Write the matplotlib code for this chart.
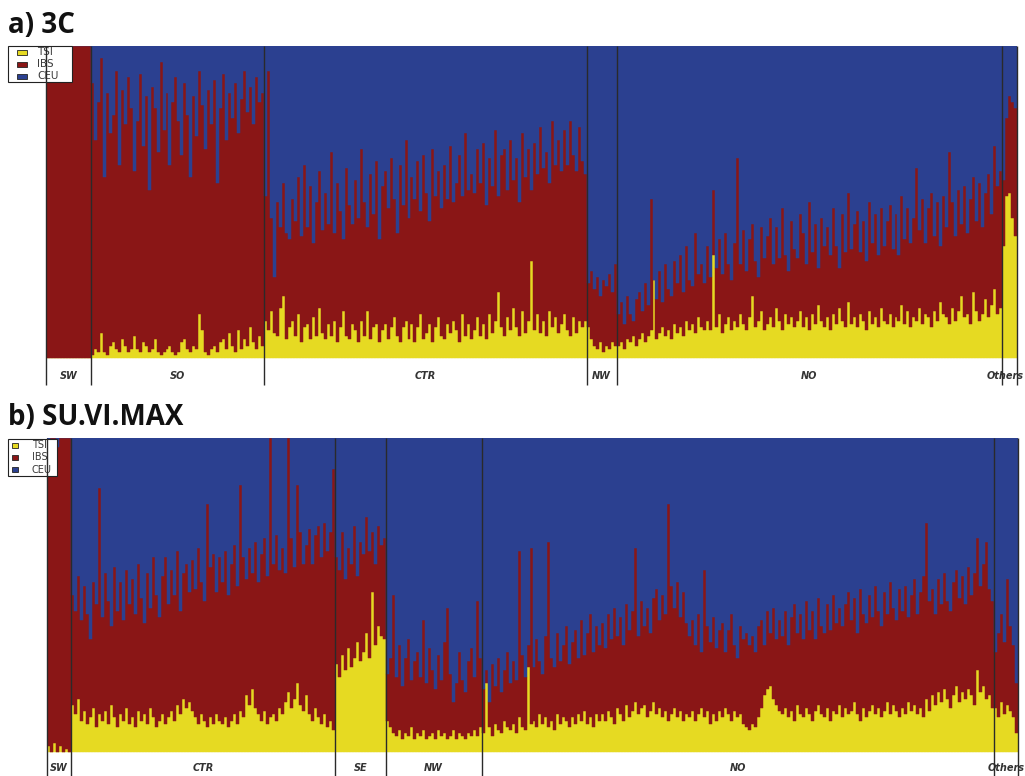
import numpy as np
import matplotlib
matplotlib.use("Agg")
import matplotlib.pyplot as plt
from matplotlib.patches import Rectangle

# ---------------- data (percent ancestry per individual) ----------------
components = ["TSI", "IBS", "CEU"]
colors = {"TSI": "#E6DA22", "IBS": "#8A1616", "CEU": "#2B4090"}

# ---- panel a) 3C ----
a_groups = ["SW", "SO", "CTR", "NW", "NO", "Others"]
a_sw_tsi = [0, 0, 0, 0, 0, 0, 0, 0, 0, 0, 0, 0, 0, 0, 0]
a_sw_ceu = [0, 0, 0, 0, 0, 0, 0, 0, 0, 0, 0, 0, 0, 0, 0]
a_so_tsi = [1, 3, 2, 8, 2, 1, 4, 5, 3, 2, 6, 4, 2, 3, 7, 3, 2, 5, 4, 2,
            3, 6, 2, 1, 2, 3, 4, 2, 1, 2, 5, 6, 3, 2, 4, 3, 14, 9, 2, 1,
            3, 4, 2, 5, 6, 3, 8, 4, 2, 9, 3, 6, 4, 10, 5, 3, 7, 4]
a_so_ceu = [12, 30, 18, 4, 42, 15, 28, 22, 8, 38, 14, 25, 10, 20, 40, 24, 9, 32, 16, 46,
            13, 20, 34, 5, 27, 15, 38, 18, 10, 24, 35, 12, 22, 42, 16, 29, 8, 19, 33, 14,
            25, 11, 44, 20, 9, 30, 15, 23, 12, 28, 17, 8, 21, 13, 25, 10, 18, 15]
a_ctr_tsi = [12, 9, 15, 8, 7, 16, 20, 6, 10, 12, 7, 14, 5, 10, 11, 6, 13, 7, 16, 8,
             6, 11, 7, 12, 5, 10, 15, 7, 6, 11, 9, 5, 12, 7, 15, 6, 10, 11, 5, 9,
             11, 6, 10, 13, 7, 5, 10, 12, 6, 11, 5, 10, 14, 6, 8, 11, 5, 10, 13, 7,
             6, 11, 8, 12, 9, 5, 14, 7, 11, 6, 9, 13, 7, 11, 6, 14, 8, 12, 21, 10,
             7, 13, 9, 16, 10, 7, 15, 8, 12, 31, 9, 14, 8, 12, 7, 15, 10, 13, 8, 11,
             14, 9, 7, 13, 8, 12, 10, 12]
a_ctr_ceu = [48, 8, 55, 74, 50, 58, 44, 60, 62, 49, 56, 42, 61, 38, 58, 45, 63, 50, 40, 59,
             47, 57, 34, 60, 44, 53, 62, 39, 51, 57, 43, 55, 33, 50, 58, 41, 54, 37, 62, 45,
             40, 52, 36, 49, 60, 38, 51, 30, 55, 42, 49, 37, 53, 35, 47, 56, 33, 48, 40, 52,
             38, 49, 32, 50, 44, 35, 48, 28, 46, 41, 47, 33, 44, 31, 51, 36, 45, 27, 48, 35,
             33, 46, 30, 43, 36, 50, 28, 42, 33, 46, 31, 41, 26, 39, 34, 44, 24, 38, 30, 40,
             27, 38, 24, 35, 40, 26, 37, 41]
a_nw_tsi = [10, 6, 4, 3, 5, 2, 4, 3, 5, 4]
a_nw_ceu = [76, 72, 78, 74, 80, 75, 77, 73, 79, 70]
a_no_tsi = [4, 5, 3, 6, 5, 7, 4, 6, 8, 5, 7, 9, 25, 6, 8, 10, 7, 9, 6, 11,
            8, 10, 7, 12, 9, 11, 8, 13, 10, 9, 12, 9, 33, 10, 14, 8, 11, 13, 9, 12,
            10, 14, 11, 9, 13, 20, 10, 12, 15, 9, 11, 13, 10, 16, 12, 9, 14, 11, 13, 10,
            12, 15, 10, 13, 9, 14, 11, 17, 12, 10, 13, 9, 14, 11, 16, 12, 10, 18, 11, 13,
            10, 14, 12, 9, 15, 11, 13, 10, 16, 12, 11, 14, 10, 13, 12, 17, 11, 15, 10, 13,
            12, 16, 11, 14, 13, 10, 15, 12, 18, 14, 13, 11, 16, 12, 15, 20, 13, 14, 11, 21,
            15, 12, 14, 19, 13, 17, 22, 14, 16]
a_no_ceu = [86, 82, 89, 80, 86, 88, 81, 79, 85, 76, 83, 49, 75, 81, 72, 82, 70, 78, 80, 69,
            76, 67, 79, 64, 75, 77, 60, 73, 70, 76, 64, 74, 46, 71, 62, 73, 60, 70, 75, 63,
            36, 70, 59, 72, 62, 57, 69, 74, 58, 68, 61, 55, 70, 58, 68, 52, 67, 72, 56, 65,
            68, 54, 60, 70, 50, 66, 57, 71, 55, 64, 58, 67, 52, 64, 71, 54, 66, 47, 65, 57,
            53, 66, 56, 69, 50, 63, 54, 67, 52, 64, 56, 51, 65, 54, 67, 48, 62, 52, 63, 55,
            39, 59, 49, 63, 52, 47, 61, 50, 64, 48, 58, 34, 50, 61, 46, 57, 45, 60, 49, 42,
            56, 44, 58, 47, 41, 54, 32, 45, 40]
a_oth_tsi = [36, 52, 53, 45, 39]
a_oth_ceu = [43, 23, 16, 18, 20]

# ---- panel b) SU.VI.MAX ----
b_groups = ["SW", "CTR", "SE", "NW", "NO", "Others"]
b_sw_tsi = [2, 0, 3, 0, 2, 0, 1, 0]
b_sw_ceu = [2, 0, 0, 3, 0, 0, 0, 0]
b_ctr_tsi = [15, 12, 17, 10, 13, 9, 11, 14, 8, 12, 10, 13, 9, 15, 11, 8, 12, 10, 14, 9,
             11, 8, 13, 10, 12, 9, 14, 11, 8, 10, 12, 9, 11, 13, 10, 15, 12, 17, 14, 16,
             13, 11, 9, 12, 10, 8, 11, 9, 12, 10, 9, 11, 8, 10, 12, 9, 13, 11, 18, 15,
             20, 14, 12, 10, 13, 9, 11, 12, 10, 14, 12, 16, 19, 14, 17, 22, 15, 13, 18, 12,
             10, 14, 11, 9, 12, 8, 10, 7]
b_ctr_ceu = [50, 55, 44, 58, 47, 56, 64, 46, 53, 16, 57, 43, 52, 60, 41, 55, 46, 58, 42, 53,
             45, 56, 40, 51, 59, 43, 54, 38, 50, 57, 44, 38, 53, 42, 50, 36, 55, 43, 40, 49,
             39, 48, 35, 46, 52, 21, 41, 37, 49, 38, 46, 36, 50, 40, 34, 47, 15, 38, 45, 35,
             43, 33, 46, 37, 32, 44, 0, 40, 31, 42, 35, 43, 0, 32, 41, 15, 30, 40, 34, 29,
             40, 31, 28, 38, 27, 36, 30, 10]
b_se_tsi = [28, 24, 31, 26, 33, 27, 30, 35, 29, 32, 38, 30, 51, 34, 40, 37, 36]
b_se_ceu = [38, 42, 30, 45, 35, 40, 28, 44, 33, 37, 25, 36, 30, 40, 28, 34, 32]
b_nw_tsi = [10, 8, 6, 5, 7, 4, 6, 5, 8, 4, 6, 5, 7, 4, 5, 6, 4, 7, 5, 6,
            4, 5, 7, 4, 6, 5, 4, 6, 5, 7, 5, 8]
b_nw_ceu = [75, 70, 50, 76, 66, 79, 70, 64, 77, 71, 68, 76, 58, 78, 67, 74, 80, 69, 77, 65,
            54, 75, 84, 78, 68, 77, 81, 71, 67, 76, 52, 70]
b_no_tsi = [6, 22, 8, 5, 9, 7, 6, 10, 8, 7, 9, 6, 11, 8, 7, 27, 9, 10, 8, 12,
            9, 11, 8, 10, 7, 12, 9, 11, 10, 8, 11, 9, 12, 10, 13, 9, 11, 8, 12, 10,
            12, 10, 13, 11, 9, 14, 12, 10, 15, 11, 13, 16, 12, 14, 15, 11, 13, 16, 12, 14,
            11, 13, 10, 12, 14, 11, 13, 10, 12, 11, 13, 10, 12, 14, 11, 13, 9, 12, 10, 13,
            11, 14, 12, 10, 13, 11, 12, 9, 8, 7, 9, 8, 11, 14, 18, 20, 21, 17, 15, 13,
            12, 14, 11, 13, 10, 15, 12, 11, 14, 12, 10, 13, 15, 12, 11, 14, 10, 13, 12, 15,
            11, 14, 12, 13, 16, 12, 10, 14, 11, 13, 15, 12, 14, 11, 13, 16, 12, 15, 13, 11,
            14, 12, 16, 13, 15, 12, 14, 11, 17, 13, 18, 15, 19, 16, 20, 17, 14, 18, 21, 16,
            19, 17, 20, 18, 15, 26, 19, 21, 17, 18, 14]
b_no_ceu = [80, 74, 84, 72, 79, 70, 81, 74, 68, 78, 71, 77, 36, 69, 76, 66, 35, 73, 64, 71,
            75, 63, 33, 70, 73, 62, 71, 66, 60, 72, 65, 61, 70, 58, 69, 62, 56, 68, 60, 66,
            59, 67, 56, 64, 54, 63, 57, 66, 53, 61, 55, 35, 63, 52, 60, 54, 62, 51, 48, 58,
            50, 56, 21, 47, 54, 46, 57, 49, 59, 63, 58, 66, 56, 68, 42, 60, 65, 57, 67, 61,
            59, 68, 61, 56, 66, 70, 60, 64, 62, 66, 63, 68, 60, 58, 66, 55, 62, 54, 64, 58,
            63, 55, 66, 57, 53, 62, 56, 64, 52, 61, 55, 64, 51, 60, 62, 53, 61, 50, 59, 54,
            60, 53, 49, 58, 51, 62, 48, 56, 59, 50, 57, 47, 55, 60, 49, 56, 46, 54, 58, 48,
            55, 47, 57, 50, 45, 56, 49, 44, 27, 52, 48, 56, 45, 53, 43, 52, 55, 46, 42, 51,
            44, 53, 41, 50, 43, 32, 47, 40, 33, 48, 52]
b_oth_tsi = [14, 11, 16, 12, 15, 13, 11, 6]
b_oth_ceu = [68, 62, 56, 65, 45, 60, 66, 78]

panel_a = {"title": "a) 3C", "groups": a_groups,
           "tsi": [a_sw_tsi, a_so_tsi, a_ctr_tsi, a_nw_tsi, a_no_tsi, a_oth_tsi],
           "ceu": [a_sw_ceu, a_so_ceu, a_ctr_ceu, a_nw_ceu, a_no_ceu, a_oth_ceu]}
panel_b = {"title": "b) SU.VI.MAX", "groups": b_groups,
           "tsi": [b_sw_tsi, b_ctr_tsi, b_se_tsi, b_nw_tsi, b_no_tsi, b_oth_tsi],
           "ceu": [b_sw_ceu, b_ctr_ceu, b_se_ceu, b_nw_ceu, b_no_ceu, b_oth_ceu]}

# ---------------- figure ----------------
W, H = 1025, 776
fig = plt.figure(figsize=(W / 100, H / 100), dpi=100)
fig.patch.set_facecolor("white")


def fx(px):
    return px / W


def fy(py):
    return 1 - py / H


def draw_panel(panel, left_px, right_px, top_px, bar_bottom_px, strip_bottom_px,
               title_baseline_px, legend_spec, last_label_shift=0.0):
    bar_h = bar_bottom_px - top_px
    strip_h = strip_bottom_px - bar_bottom_px
    ax = fig.add_axes([fx(left_px), fy(strip_bottom_px),
                       (right_px - left_px) / W, (strip_bottom_px - top_px) / H])
    tsi = np.concatenate([np.array(g, float) for g in panel["tsi"]]) / 100
    ceu = np.concatenate([np.array(g, float) for g in panel["ceu"]]) / 100
    ibs = 1 - tsi - ceu
    n = len(tsi)
    x = np.arange(n)
    kw = dict(width=1.0, align="edge", linewidth=0.35)
    ax.bar(x, tsi, color=colors["TSI"], edgecolor=colors["TSI"], **kw)
    ax.bar(x, ibs, bottom=tsi, color=colors["IBS"], edgecolor=colors["IBS"], **kw)
    ax.bar(x, ceu, bottom=tsi + ibs, color=colors["CEU"], edgecolor=colors["CEU"], **kw)
    ymin = -strip_h / bar_h
    ax.set_xlim(0, n)
    ax.set_ylim(ymin, 1)
    ax.axis("off")

    sizes = [len(g) for g in panel["tsi"]]
    edges = np.concatenate([[0], np.cumsum(sizes)])
    for e in edges:
        ax.plot([e, e], [ymin, 1], color="#2a2a2a", lw=1.0, zorder=6,
                clip_on=False, solid_capstyle="butt")
    for i, (name, a, b) in enumerate(zip(panel["groups"], edges[:-1], edges[1:])):
        xc = (a + b) / 2
        if i == len(panel["groups"]) - 1:
            xc += last_label_shift
        ax.text(xc, ymin * 0.66, name, ha="center", va="center",
                fontsize=7, fontweight="bold", style="italic", color="#333333",
                family="DejaVu Sans", clip_on=False)

    # legend box (figure-pixel geometry), drawn beneath the group lines
    (bx0, by0, bx1, by1, px0, px1, ph, tx, fs) = legend_spec
    ax.add_patch(Rectangle((fx(bx0), fy(by1)), fx(bx1) - fx(bx0), fy(by0) - fy(by1),
                           transform=fig.transFigure, facecolor="white",
                           edgecolor="#222222", lw=0.8, zorder=5, clip_on=False))
    step = (by1 - by0) / 3.0
    for k, comp in enumerate(components):
        yc = by0 + step * (k + 0.5)
        ax.add_patch(Rectangle((fx(px0), fy(yc + ph / 2)), fx(px1) - fx(px0), ph / H,
                               transform=fig.transFigure, facecolor=colors[comp],
                               edgecolor="#222222", lw=0.6, zorder=5.5, clip_on=False))
        ax.text(fx(tx), fy(yc), comp, transform=fig.transFigure, fontsize=fs,
                color="#3a3a3a", va="center", ha="left", zorder=5.5, clip_on=False)

    fig.text(fx(8), fy(title_baseline_px), panel["title"], fontsize=20,
             fontweight="bold", family="Open Sans", va="baseline", ha="left",
             color="#111111")


draw_panel(panel_a, 46, 1017, 46, 358, 385, 33,
           (8, 46, 72, 82, 17, 27, 5, 37, 7.5), last_label_shift=-1.5)
draw_panel(panel_b, 47, 1018, 438, 752, 776, 425,
           (8, 439, 57, 476, 12, 18, 5, 32, 7))

fig.savefig("out.png", dpi=100, facecolor="white")
